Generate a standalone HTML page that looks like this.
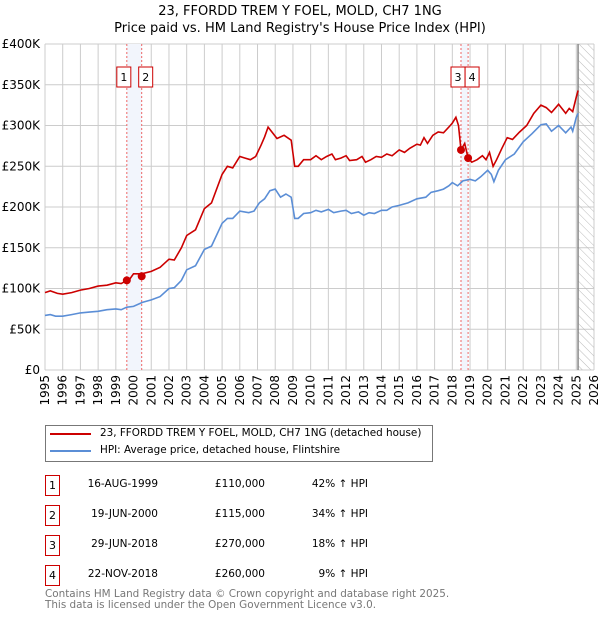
<!DOCTYPE html>
<html><head><meta charset="utf-8"><style>
body{margin:0;width:600px;height:620px;background:#fff;font-family:"DejaVu Sans","Liberation Sans",sans-serif;overflow:hidden;position:relative}
.t{position:absolute;font-size:11px;color:#000;white-space:nowrap}
.box{position:absolute;width:13px;height:19px;border:1px solid #c00;font-size:11px;text-align:center;line-height:19px}
</style></head><body>
<svg width="600" height="420" style="position:absolute;left:0;top:0" font-family="DejaVu Sans, Liberation Sans, sans-serif">
<defs><pattern id="hatch" width="6" height="6" patternUnits="userSpaceOnUse" patternTransform="rotate(-45)"><line x1="0" y1="0" x2="0" y2="6" stroke="#bbb" stroke-width="1"/></pattern></defs>
<text x="300" y="15" text-anchor="middle" font-size="13">23, FFORDD TREM Y FOEL, MOLD, CH7 1NG</text>
<text x="300" y="32" text-anchor="middle" font-size="13">Price paid vs. HM Land Registry's House Price Index (HPI)</text>
<g id="grid"></g><g id="bands"></g><g id="lines"></g><g id="axes"></g>
</svg>
<div style="position:absolute;left:45px;top:425px;width:386px;height:35px;border:1px solid #777"></div>
<div style="position:absolute;left:50px;top:433px;width:41px;height:2px;background:#c00"></div>
<div class="t" style="left:100px;top:427px;font-size:10.4px">23, FFORDD TREM Y FOEL, MOLD, CH7 1NG (detached house)</div>
<div style="position:absolute;left:50px;top:450px;width:41px;height:2px;background:#5b8ed6"></div>
<div class="t" style="left:100px;top:444px;font-size:10.4px">HPI: Average price, detached house, Flintshire</div>
<div id="table"></div>
<div class="t" style="left:45px;top:589px;font-size:10.4px;color:#777;line-height:10.5px">Contains HM Land Registry data © Crown copyright and database right 2025.<br>This data is licensed under the Open Government Licence v3.0.</div>
<script>
const redYears=[1995,1995.3,1995.7,1996,1996.5,1997,1997.5,1998,1998.5,1999,1999.3,1999.62,1999.8,2000,2000.46,2001,2001.5,2002,2002.3,2002.7,2003,2003.5,2004,2004.4,2005,2005.3,2005.6,2006,2006.3,2006.6,2006.9,2007.2,2007.4,2007.6,2008.1,2008.5,2008.9,2009.1,2009.3,2009.6,2010,2010.3,2010.6,2010.9,2011.2,2011.4,2011.7,2012,2012.2,2012.6,2012.9,2013.1,2013.4,2013.7,2014,2014.3,2014.6,2015,2015.3,2015.6,2016,2016.2,2016.4,2016.6,2016.9,2017.2,2017.5,2017.8,2018,2018.2,2018.35,2018.49,2018.7,2018.89,2019.1,2019.4,2019.7,2019.9,2020.1,2020.3,2020.5,2020.8,2021.1,2021.4,2021.8,2022.2,2022.6,2023,2023.3,2023.6,2024,2024.4,2024.6,2024.8,2025,2025.1];
const redValues=[95,97,94,93,95,98,100,103,104,107,106,110,112,118,118,121,126,136,135,150,165,172,198,205,240,250,248,262,260,258,262,276,286,298,284,288,282,250,250,258,258,263,258,262,265,258,260,263,257,258,262,255,258,262,261,265,263,270,267,272,277,276,285,278,288,292,291,298,303,310,300,270,278,260,255,258,263,258,267,250,258,272,285,283,292,300,315,325,322,316,326,315,321,317,335,343];
const hpiYears=[1995,1995.3,1995.6,1996,1996.5,1997,1997.5,1998,1998.5,1999,1999.3,1999.62,2000,2000.5,2001,2001.5,2002,2002.3,2002.7,2003,2003.5,2004,2004.4,2005,2005.3,2005.6,2006,2006.5,2006.8,2007.1,2007.4,2007.7,2008,2008.3,2008.6,2008.9,2009.1,2009.3,2009.6,2010,2010.3,2010.6,2011,2011.3,2011.7,2012,2012.3,2012.7,2013,2013.3,2013.6,2014,2014.3,2014.6,2015,2015.5,2016,2016.5,2016.8,2017.2,2017.5,2017.8,2018,2018.3,2018.6,2019,2019.3,2019.6,2020,2020.2,2020.35,2020.6,2021,2021.5,2022,2022.5,2023,2023.3,2023.6,2024,2024.4,2024.7,2024.8,2025,2025.1];
const hpiValues=[67,68,66,66,68,70,71,72,74,75,74,77,78,83,86,90,100,101,110,123,128,148,152,180,186,186,195,193,195,205,210,220,222,212,216,212,186,186,192,193,196,194,197,193,195,196,192,194,190,193,192,196,196,200,202,205,210,212,218,220,222,226,230,226,232,234,232,237,245,240,231,245,258,265,280,290,301,302,293,300,291,298,293,310,315];
const saleLabels=["1","2","3","4"];
const saleYears=[1999.62,2000.46,2018.49,2018.89];
const salePrices=[110,115,270,260];
const saleDates=["16-AUG-1999","19-JUN-2000","29-JUN-2018","22-NOV-2018"];
const salePriceText=["£110,000","£115,000","£270,000","£260,000"];
const saleHpiText=["42% ↑ HPI","34% ↑ HPI","18% ↑ HPI","9% ↑ HPI"];
const yTicks=[0,50,100,150,200,250,300,350,400];
const yTickLabels=["£0","£50K","£100K","£150K","£200K","£250K","£300K","£350K","£400K"];
const xTicks=[1995,1996,1997,1998,1999,2000,2001,2002,2003,2004,2005,2006,2007,2008,2009,2010,2011,2012,2013,2014,2015,2016,2017,2018,2019,2020,2021,2022,2023,2024,2025,2026];
const X0=45,X1=594,Y0=370,Y1=44;
const xs=v=>X0+(v-1995)/(2026-1995)*(X1-X0);
const ys=v=>Y0-v/400*(Y0-Y1);
const NS="http://www.w3.org/2000/svg";
function mk(tag,attrs,parent){const e=document.createElementNS(NS,tag);for(const k in attrs)e.setAttribute(k,attrs[k]);document.getElementById(parent).appendChild(e);return e;}
xTicks.forEach(t=>{const l=mk('line',{x1:xs(t),x2:xs(t),y1:Y1,y2:Y0,stroke:'#ccc'},'grid');


const tx=mk('text',{x:0,y:0,'font-size':12,'text-anchor':'end',transform:`translate(${xs(t)+4},${Y0+5}) rotate(-90)`},'axes');tx.textContent=t;

});
yTicks.forEach((t,i)=>{const l=mk('line',{x1:X0,x2:X1,y1:ys(t),y2:ys(t),stroke:'#ccc'},'grid');


const tx=mk('text',{x:X0-5,y:ys(t)+4,'font-size':12,'text-anchor':'end'},'axes');tx.textContent=yTickLabels[i];

});
const hx=xs(2025.1);
const h=mk('rect',{x:hx,y:Y1,width:X1-hx,height:Y0-Y1,fill:'url(#hatch)'},'bands');


const hl=mk('line',{x1:hx,x2:hx,y1:Y1,y2:Y0,stroke:'#888','stroke-width':1.5},'bands');


[[0,1],[2,3]].forEach(p=>{const a=xs(saleYears[p[0]]),b=xs(saleYears[p[1]]);
const r=mk('rect',{x:a,y:Y1,width:b-a,height:Y0-Y1,fill:'#f2f5fc'},'bands');

});
saleYears.forEach((y,i)=>{const l=mk('line',{x1:xs(y),x2:xs(y),y1:Y1,y2:Y0,stroke:'#e66','stroke-dasharray':'2,2'},'bands');


const bx=xs(y)+(i%2==0?-10:-3);
const r=mk('rect',{x:bx,y:67,width:14,height:20,fill:'#fff',stroke:'#c00'},'bands');


const t=mk('text',{x:bx+7,y:81,'font-size':11,'text-anchor':'middle'},'bands');t.textContent=saleLabels[i];

});
const mkPath=(X,V)=>X.map((x,i)=>(i?'L':'M')+xs(x).toFixed(1)+','+ys(V[i]).toFixed(1)).join(' ');
const bl=mk('path',{d:mkPath(hpiYears,hpiValues),fill:'none',stroke:'#5b8ed6','stroke-width':1.6},'lines');


const rl=mk('path',{d:mkPath(redYears,redValues),fill:'none',stroke:'#c00','stroke-width':1.6},'lines');


saleYears.forEach((y,i)=>{const c=mk('circle',{cx:xs(y),cy:ys(salePrices[i]),r:4,fill:'#c00'},'lines');

});
const tb=document.getElementById('table');
saleLabels.forEach((l,i)=>{const top=475+i*30;
const b=document.createElement('div');b.className='box';b.style.left='45px';b.style.top=top+'px';b.textContent=l;

tb.appendChild(b);
[[saleDates[i],158],[salePriceText[i],265],[saleHpiText[i],368]].forEach(c=>{const d=document.createElement('div');d.className='t';d.style.right=(600-c[1])+'px';d.style.top=(top+3)+'px';d.style.fontSize='10.5px';d.textContent=c[0];

tb.appendChild(d);});});
</script>
</body></html>
